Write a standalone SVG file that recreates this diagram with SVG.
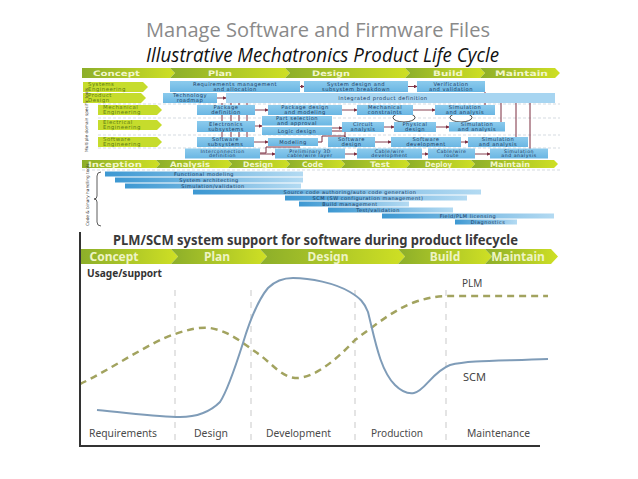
<svg xmlns="http://www.w3.org/2000/svg" width="638" height="479" viewBox="0 0 638 479">
<defs>
<linearGradient id="gph" x1="0" y1="0" x2="1" y2="0"><stop offset="0" stop-color="#8cae2a"/><stop offset="1" stop-color="#cfe024"/></linearGradient>
<linearGradient id="gbar" x1="0" y1="0" x2="1" y2="0"><stop offset="0" stop-color="#3d98d2"/><stop offset="1" stop-color="#b3daf2"/></linearGradient>
<linearGradient id="gbox" x1="0" y1="0" x2="0" y2="1"><stop offset="0" stop-color="#8ccbed"/><stop offset="1" stop-color="#6ab6e3"/></linearGradient>
<marker id="ar" viewBox="0 0 6 6" refX="5" refY="3" markerWidth="4" markerHeight="4" orient="auto"><path d="M0,0 L6,3 L0,6 z" fill="#7b2c3f"/></marker>
</defs>
<style>
.ttl{font-family:"Open Sans","Liberation Sans",sans-serif;font-size:20px;fill:#8a8a8a}
.sub{font-family:"Open Sans","Liberation Sans",sans-serif;font-size:20px;font-style:italic;fill:#111}
.ph{font-family:"DejaVu Sans",sans-serif;font-weight:bold;font-size:7.5px;fill:#f2f6cc}
.box{fill:url(#gbox)}
.bt{font-family:"DejaVu Sans",sans-serif;font-size:5.2px;fill:#1d3b63;text-anchor:middle;letter-spacing:0.5px}
.bs{font-size:4.7px}
.lab{fill:#c6dc2c}
.lt{font-family:"DejaVu Sans",sans-serif;font-size:5.4px;fill:#5f7d14;letter-spacing:0.5px}
.bar{fill:url(#gbar)}
.bart{font-family:"DejaVu Sans",sans-serif;font-size:5px;fill:#1d3b63;text-anchor:middle;letter-spacing:0.5px}
.cn{stroke:#7b2c3f;stroke-width:1;fill:none}
.ca{stroke:#7b2c3f;stroke-width:0.9;fill:none;marker-end:url(#ar)}
.sep{stroke:#b9c4cc;stroke-width:0.6;stroke-dasharray:3 2}
.bph{font-family:"Noto Sans","Open Sans",sans-serif;font-weight:bold;font-size:12px;fill:#eef4c4;text-anchor:middle}
.ax{font-family:"Noto Sans","Open Sans",sans-serif;font-size:11.5px;fill:#4a4a4a}
.grid{stroke:#c9c9c9;stroke-width:1;stroke-dasharray:6 6}
</style>
<rect width="638" height="479" fill="#fff"/>

<g id="titles">
<text class="ttl" x="146" y="37" textLength="344" lengthAdjust="spacingAndGlyphs">Manage Software and Firmware Files</text>
<text class="sub" x="146" y="62" textLength="353" lengthAdjust="spacingAndGlyphs">Illustrative Mechatronics Product Life Cycle</text>
</g>

<g id="top-phases">
<polygon fill="url(#gph)" points="82,68 170,68 175,73 170,78 82,78"/>
<polygon fill="url(#gph)" points="170,68 285,68 290,73 285,78 170,78 175,73"/>
<polygon fill="url(#gph)" points="285,68 405,68 410,73 405,78 285,78 290,73"/>
<polygon fill="url(#gph)" points="405,68 480,68 485,73 480,78 405,78 410,73"/>
<polygon fill="url(#gph)" points="480,68 555,68 560,73 555,78 480,78 485,73"/>
<text class="ph" x="93" y="76" textLength="47" lengthAdjust="spacingAndGlyphs">Concept</text>
<text class="ph" x="208" y="76" textLength="24" lengthAdjust="spacingAndGlyphs">Plan</text>
<text class="ph" x="312" y="76" textLength="38" lengthAdjust="spacingAndGlyphs">Design</text>
<text class="ph" x="433" y="76" textLength="30" lengthAdjust="spacingAndGlyphs">Build</text>
<text class="ph" x="495" y="76" textLength="53" lengthAdjust="spacingAndGlyphs">Maintain</text>
</g>

<g id="separators">
<line class="sep" x1="98" y1="104" x2="560" y2="104"/>
<line class="sep" x1="98" y1="118" x2="560" y2="118"/>
<line class="sep" x1="98" y1="135" x2="560" y2="135"/>
<line class="sep" x1="98" y1="148" x2="560" y2="148"/>
<line class="sep" x1="82" y1="170" x2="560" y2="170"/>
</g>

<g id="connectors-top">
<line class="cn" x1="222" y1="103" x2="222" y2="137"/>
<line class="cn" x1="231" y1="103" x2="231" y2="137"/>
<line class="cn" x1="239" y1="103" x2="239" y2="137"/>
<line class="cn" x1="247" y1="103" x2="247" y2="137"/>
<line class="cn" x1="501" y1="103" x2="501" y2="122"/>
<line class="cn" x1="516" y1="103" x2="516" y2="137"/>
<line class="cn" x1="530" y1="103" x2="530" y2="149"/>
<line class="cn" x1="485" y1="92" x2="485" y2="105"/>
<path class="cn" d="M318,142 L322,142 L322,136 L345,136 L345,137"/>
<path class="cn" d="M332,131 L345,131 L345,137"/>
<path class="cn" d="M260,153 L266,153 L266,147 L300,147"/>
<line class="ca" x1="300" y1="86.5" x2="304" y2="86.5"/>
<line class="ca" x1="408" y1="86.5" x2="417" y2="86.5"/>
<line class="ca" x1="217" y1="98" x2="226" y2="98"/>
<line class="ca" x1="255" y1="110" x2="268" y2="110"/>
<line class="ca" x1="342" y1="110" x2="357" y2="110"/>
<line class="ca" x1="413" y1="110" x2="435" y2="110"/>
<line class="ca" x1="255" y1="126" x2="262" y2="126"/>
<line class="ca" x1="332" y1="128" x2="342" y2="128"/>
<line class="ca" x1="384" y1="127" x2="394" y2="127"/>
<line class="ca" x1="436" y1="127" x2="449" y2="127"/>
<line class="ca" x1="254" y1="142" x2="268" y2="142"/>
<line class="ca" x1="375" y1="142" x2="391" y2="142"/>
<line class="ca" x1="461" y1="142" x2="468" y2="142"/>
<line class="ca" x1="260" y1="154" x2="275" y2="154"/>
<line class="ca" x1="345" y1="154" x2="357" y2="154"/>
<line class="ca" x1="422" y1="154" x2="428" y2="154"/>
<line class="ca" x1="475" y1="154" x2="490" y2="154"/>
<ellipse cx="404" cy="117.5" rx="11" ry="4.5" fill="#fff" stroke="#222" stroke-width="0.8"/>
<ellipse cx="461" cy="117.5" rx="11" ry="4.5" fill="#fff" stroke="#222" stroke-width="0.8"/>
</g>

<g id="row-labels">
<polygon class="lab" points="83,82 143,82 148,87 143,92 83,92"/>
<text class="lt" x="88" y="86.3">Systems<tspan x="88" dy="4.8">Engineering</tspan></text>
<polygon class="lab" points="83,93 141,93 146,98 141,103 83,103"/>
<text class="lt" x="88" y="97.3">Product<tspan x="88" dy="4.8">Design</tspan></text>
<polygon class="lab" points="98,105 157,105 162,110 157,115 98,115"/>
<text class="lt" x="103" y="109.3">Mechanical<tspan x="103" dy="4.8">Engineering</tspan></text>
<polygon class="lab" points="98,120 157,120 162,125 157,130 98,130"/>
<text class="lt" x="103" y="124.3">Electrical<tspan x="103" dy="4.8">Engineering</tspan></text>
<polygon class="lab" points="98,137 157,137 162,142 157,147 98,147"/>
<text class="lt" x="103" y="141.3">Software<tspan x="103" dy="4.8">Engineering</tspan></text>
<text font-family="DejaVu Sans,sans-serif" font-size="4.3" fill="#333" transform="translate(88,152) rotate(-90)">Multiple domain specific tools</text>
</g>

<g id="n-req"><rect class="box" x="170" y="81" width="130" height="11"/><text class="bt" x="235" y="85.6">Requirements management<tspan x="235" dy="4.9">and allocation</tspan></text></g>
<g id="n-sysdesign"><rect class="box" x="304" y="81" width="104" height="11"/><text class="bt" x="356" y="85.6">System design and<tspan x="356" dy="4.9">subsystem breakdown</tspan></text></g>
<g id="n-verif"><rect class="box" x="417" y="81" width="68" height="11"/><text class="bt" x="451" y="85.6">Verification<tspan x="451" dy="4.9">and validation</tspan></text></g>
<g id="n-tech"><rect class="box" x="163" y="93" width="54" height="10"/><text class="bt" x="190" y="97.3">Technology<tspan x="190" dy="4.6">roadmap</tspan></text></g>
<g id="n-integrated"><rect x="226" y="93" width="329" height="10" fill="#a7d5f1"/><text class="bt" x="383" y="100">Integrated product definition</text></g>
<g id="n-pkgdef"><rect class="box" x="197" y="105" width="58" height="10"/><text class="bt" x="226" y="109.3">Package<tspan x="226" dy="4.6">definition</tspan></text></g>
<g id="n-pkgdesign"><rect class="box" x="268" y="105" width="74" height="10"/><text class="bt" x="305" y="109.3">Package design<tspan x="305" dy="4.6">and modeling</tspan></text></g>
<g id="n-mechcon"><rect class="box" x="357" y="105" width="56" height="10"/><text class="bt" x="385" y="109.3">Mechanical<tspan x="385" dy="4.6">constraints</tspan></text></g>
<g id="n-mechsim"><rect class="box" x="435" y="105" width="60" height="10"/><text class="bt" x="465" y="109.3">Simulation<tspan x="465" dy="4.6">and analysis</tspan></text></g>
<g id="n-elecsub"><rect class="box" x="197" y="121" width="58" height="11"/><text class="bt" x="226" y="125.6">Electronics<tspan x="226" dy="4.9">subsystems</tspan></text></g>
<g id="n-partsel"><rect class="box" x="262" y="116" width="70" height="9.5"/><text class="bt" x="297" y="120">Part selection<tspan x="297" dy="4.5">and approval</tspan></text></g>
<g id="n-logic"><rect class="box" x="262" y="127" width="70" height="8"/><text class="bt" x="297" y="133">Logic design</text></g>
<g id="n-circuit"><rect class="box" x="342" y="122" width="42" height="10"/><text class="bt" x="363" y="126.3">Circuit<tspan x="363" dy="4.6">analysis</tspan></text></g>
<g id="n-physical"><rect class="box" x="394" y="122" width="42" height="10"/><text class="bt" x="415" y="126.3">Physical<tspan x="415" dy="4.6">design</tspan></text></g>
<g id="n-elecsim"><rect class="box" x="449" y="122" width="56" height="9.5"/><text class="bt" x="477" y="126.2">Simulation<tspan x="477" dy="4.5">and analysis</tspan></text></g>
<g id="n-swsub"><rect class="box" x="197" y="137" width="57" height="10"/><text class="bt" x="225.5" y="141.3">Software<tspan x="225.5" dy="4.6">subsystems</tspan></text></g>
<g id="n-modeling"><rect class="box" x="268" y="138" width="50" height="8"/><text class="bt" x="293" y="144">Modeling</text></g>
<g id="n-swdesign"><rect class="box" x="328" y="137" width="47" height="10"/><text class="bt" x="351.5" y="141.3">Software<tspan x="351.5" dy="4.6">design</tspan></text></g>
<g id="n-swdev"><rect class="box" x="391" y="137" width="70" height="10"/><text class="bt" x="426" y="141.3">Software<tspan x="426" dy="4.6">development</tspan></text></g>
<g id="n-swsim"><rect class="box" x="468" y="137" width="60" height="10"/><text class="bt" x="498" y="141.3">Simulation<tspan x="498" dy="4.6">and analysis</tspan></text></g>
<g id="n-interconn"><rect class="box" x="185" y="148.5" width="75" height="10"/><text class="bt bs" x="222.5" y="152.6">Interconnection</text><text class="bt bs" x="222.5" y="157.4">definition</text></g>
<g id="n-prelim"><rect class="box" x="275" y="148.5" width="70" height="10"/><text class="bt bs" x="310" y="152.6">Preliminary 3D</text><text class="bt bs" x="310" y="157.4">cable/wire layer</text></g>
<g id="n-cabledev"><rect class="box" x="357" y="148.5" width="65" height="10"/><text class="bt bs" x="389.5" y="152.6">Cable/wire</text><text class="bt bs" x="389.5" y="157.4">development</text></g>
<g id="n-cableroute"><rect class="box" x="428" y="148.5" width="47" height="10"/><text class="bt bs" x="451.5" y="152.6">Cable/wire</text><text class="bt bs" x="451.5" y="157.4">route</text></g>
<g id="n-cablesim"><rect class="box" x="490" y="148.5" width="58" height="10"/><text class="bt bs" x="519" y="152.6">Simulation</text><text class="bt bs" x="519" y="157.4">and analysis</text></g>

<g id="sw-phases">
<polygon fill="url(#gph)" points="82,160 156,160 160,164 156,168 82,168"/>
<polygon fill="url(#gph)" points="156,160 228,160 232,164 228,168 156,168 160,164"/>
<polygon fill="url(#gph)" points="228,160 286,160 290,164 286,168 228,168 232,164"/>
<polygon fill="url(#gph)" points="286,160 341,160 345,164 341,168 286,168 290,164"/>
<polygon fill="url(#gph)" points="341,160 406,160 410,164 406,168 341,168 345,164"/>
<polygon fill="url(#gph)" points="406,160 471,160 475,164 471,168 406,168 410,164"/>
<polygon fill="url(#gph)" points="471,160 554,160 558,164 554,168 471,168 475,164"/>
<text class="ph" x="88" y="166.8" font-size="6.5" textLength="54" lengthAdjust="spacingAndGlyphs">Inception</text>
<text class="ph" x="170" y="166.8" font-size="6.5" textLength="40" lengthAdjust="spacingAndGlyphs">Analysis</text>
<text class="ph" x="243" y="166.8" font-size="6.5" textLength="30" lengthAdjust="spacingAndGlyphs">Design</text>
<text class="ph" x="302" y="166.8" font-size="6.5" textLength="21" lengthAdjust="spacingAndGlyphs">Code</text>
<text class="ph" x="370" y="166.8" font-size="6.5" textLength="20" lengthAdjust="spacingAndGlyphs">Test</text>
<text class="ph" x="425" y="166.8" font-size="6.5" textLength="27" lengthAdjust="spacingAndGlyphs">Deploy</text>
<text class="ph" x="490" y="166.8" font-size="6.5" textLength="40" lengthAdjust="spacingAndGlyphs">Maintain</text>
</g>

<g id="code-bars">
<path d="M101,172 Q97,172 97,176 L97,196 Q97,199 94,199 Q97,199 97,202 L97,222 Q97,226 101,226" fill="none" stroke="#333" stroke-width="0.8"/>
<text font-family="DejaVu Sans,sans-serif" font-size="4.3" fill="#333" transform="translate(89,226) rotate(-90)">Code &amp; binary handling tools</text>
<rect class="bar" x="105" y="171.5" width="198" height="5"/><text class="bart" x="204" y="175.6">Functional modeling</text>
<rect class="bar" x="115" y="177.5" width="188" height="5"/><text class="bart" x="209" y="181.6">System architecting</text>
<rect class="bar" x="125" y="183.5" width="176" height="5"/><text class="bart" x="213" y="187.6">Simulation/validation</text>
<rect class="bar" x="193" y="189.5" width="288" height="5"/><text class="bart" x="350" y="193.6">Source code authoring/auto code generation</text>
<rect class="bar" x="285" y="195.5" width="182" height="5"/><text class="bart" x="368" y="199.6">SCM (SW configuration management)</text>
<rect class="bar" x="299" y="201.5" width="110" height="5"/><text class="bart" x="350" y="205.6">Build management</text>
<rect class="bar" x="328" y="207.5" width="125" height="5"/><text class="bart" x="378" y="211.6">Test/validation</text>
<rect class="bar" x="382" y="213.5" width="172" height="5"/><text class="bart" x="468" y="217.6">Field/PLM licensing</text>
<rect class="bar" x="455" y="219.5" width="62" height="5"/><text class="bart" x="488" y="223.6">Diagnostics</text>
</g>

<g id="plm-chart">
<text x="113" y="245" font-family="Noto Sans,Open Sans,sans-serif" font-weight="bold" font-size="13.5" fill="#3a3a3a" textLength="405" lengthAdjust="spacingAndGlyphs">PLM/SCM system support for software during product lifecycle</text>
<polygon fill="url(#gph)" points="80,249 171,249 178,256.5 171,264 80,264"/>
<polygon fill="url(#gph)" points="171,249 260,249 267,256.5 260,264 171,264 178,256.5"/>
<polygon fill="url(#gph)" points="260,249 398,249 405,256.5 398,264 260,264 267,256.5"/>
<polygon fill="url(#gph)" points="398,249 485,249 492,256.5 485,264 398,264 405,256.5"/>
<polygon fill="url(#gph)" points="485,249 551,249 558,256.5 551,264 485,264 492,256.5"/>
<text class="bph" x="114" y="261">Concept</text>
<text class="bph" x="217" y="261">Plan</text>
<text class="bph" x="328" y="261">Design</text>
<text class="bph" x="445" y="261">Build</text>
<text class="bph" x="518" y="261">Maintain</text>
<text x="87" y="277" font-family="Noto Sans,Open Sans,sans-serif" font-weight="bold" font-size="11" fill="#333" textLength="75" lengthAdjust="spacingAndGlyphs">Usage/support</text>
<line class="grid" x1="175" y1="290" x2="175" y2="445"/>
<line class="grid" x1="251" y1="290" x2="251" y2="445"/>
<line class="grid" x1="355" y1="290" x2="355" y2="445"/>
<line class="grid" x1="446" y1="290" x2="446" y2="445"/>
<path d="M80,384 C110,370 150,342 175,334 C190,329 200,327 210,328 C230,331 245,345 260,355 C272,364 282,377 295,378 C315,379 340,356 355,340 C375,325 395,309 415,302 C430,297 440,296 448,296 L548,296" fill="none" stroke="#a2a35f" stroke-width="2.5" stroke-dasharray="7 5"/>
<path d="M97,410 C130,413 160,417 180,417 C195,417 210,412 220,402 C228,390 236,365 243,343 C250,320 258,300 268,288 C276,280 284,278 293,278 C310,278 335,283 350,292 C360,298 364,302 368,312 C375,340 380,370 395,385 C402,392 408,394 414,393 C425,391 432,372 450,365 C470,360 500,361 548,359" fill="none" stroke="#7f9cb8" stroke-width="2"/>
<text x="462" y="287" font-family="Noto Sans,Open Sans,sans-serif" font-size="10" fill="#444">PLM</text>
<text x="463" y="381" font-family="Noto Sans,Open Sans,sans-serif" font-size="11" fill="#444">SCM</text>
<line x1="80" y1="232" x2="80" y2="447" stroke="#333" stroke-width="2"/>
<line x1="79" y1="446" x2="540" y2="446" stroke="#333" stroke-width="2"/>
<text class="ax" x="89" y="437" textLength="68" lengthAdjust="spacingAndGlyphs">Requirements</text>
<text class="ax" x="194" y="437" textLength="34" lengthAdjust="spacingAndGlyphs">Design</text>
<text class="ax" x="266" y="437" textLength="65" lengthAdjust="spacingAndGlyphs">Development</text>
<text class="ax" x="371" y="437" textLength="52" lengthAdjust="spacingAndGlyphs">Production</text>
<text class="ax" x="467" y="437" textLength="63" lengthAdjust="spacingAndGlyphs">Maintenance</text>
</g>
</svg>
